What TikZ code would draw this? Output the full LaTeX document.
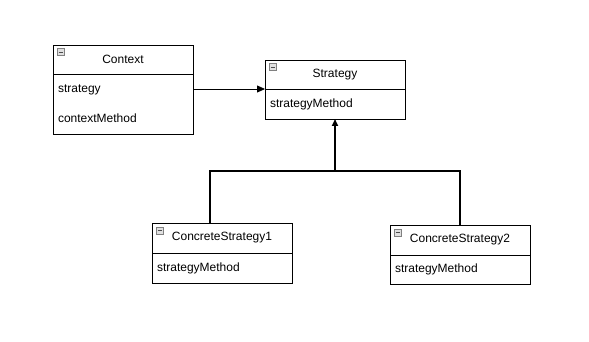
\documentclass[tikz,border=0pt]{standalone}
\usepackage{fontspec}
\setmainfont{Liberation Sans}
\usetikzlibrary{arrows.meta,positioning}

\begin{document}
\begin{tikzpicture}[
  x=1pt, y=-1pt,
  font=\fontsize{12}{14}\selectfont,
  cls/.style={draw, line width=0.8pt, minimum width=140pt, minimum height=29pt, inner sep=0pt, outer sep=0pt, anchor=north west},
  attr/.style={draw, line width=0.8pt, minimum width=140pt, text width=130pt, inner xsep=5pt, inner ysep=0pt, outer sep=0pt, align=left, font=\fontsize{12}{30}\selectfont},
  tgl/.style={draw=black!50, fill=black!12, line width=0.5pt, minimum size=7pt, inner sep=0pt, anchor=north west},
  assoc/.style={-{Triangle[length=8pt, width=7pt]}, line width=0.8pt},
  inh/.style={line width=1.6pt},
  inharr/.style={inh, -{Triangle[length=7pt, width=6pt]}}
]
\useasboundingbox (0,0) rectangle (589,342);

% class boxes
\node[cls] (ctxhead) at (53,45) {Context};
\node[attr, minimum height=60pt, below=0pt of ctxhead] (ctxbody) {strategy\\contextMethod};

\node[cls] (sthead) at (265,60) {Strategy};
\node[attr, minimum height=30pt, below=0pt of sthead] (stbody) {strategyMethod};

\node[cls, minimum height=30pt] (cs1head) at (152,223) {ConcreteStrategy1};
\node[attr, minimum height=30pt, below=0pt of cs1head] (cs1body) {strategyMethod};

\node[cls, minimum height=30pt] (cs2head) at (390,225) {ConcreteStrategy2};
\node[attr, minimum height=29pt, below=0pt of cs2head] (cs2body) {strategyMethod};

% collapse icons
\foreach \h in {ctxhead, sthead, cs1head, cs2head}
  \node[tgl] at ([shift={(4,3.5)}]\h.north west) {\color{black!70}\rule{4.2pt}{0.7pt}};

% connectors
\draw[assoc] (stbody.north west -| ctxbody.east) -- (stbody.north west);
\coordinate (joint) at (335,171);
\draw[inh] ([xshift=-12pt]cs1head.north) |- (joint) -| (cs2head.north);
\draw[inharr] (joint) -- (stbody.south);
\end{tikzpicture}
\end{document}
